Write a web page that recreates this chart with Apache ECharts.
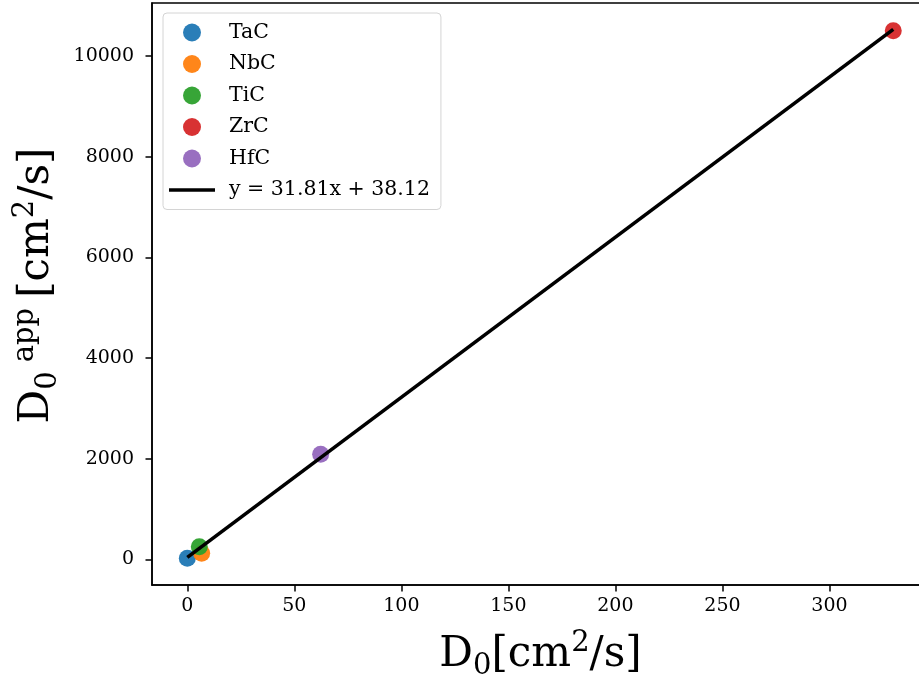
<!DOCTYPE html>
<html>
<head>
<meta charset="utf-8">
<script src="https://cdn.jsdelivr.net/npm/echarts@6/dist/echarts.min.js"></script>
<style>
  html, body { margin: 0; padding: 0; background: #fff; }
  #chart { width: 919px; height: 681px; }
</style>
</head>
<body>
<div id="chart"></div>
<script>
// Carbides: pre-exponential factor D0 vs apparent D0
const materials = ['TaC', 'NbC', 'TiC', 'ZrC', 'HfC'];
const d0Values = [0.0, 6.7, 5.6, 329.8, 62.3];
const d0AppValues = [20, 119, 250, 10503, 2086];
const materialColors = ['#1f77b4', '#ff7f0e', '#2ca02c', '#d62728', '#9467bd'];

// Linear fit stated in the legend
const fitSlope = 31.81;
const fitIntercept = 38.12;
const fitLabel = 'y = 31.81x + 38.12';

// Axis ticks
const xTicks = [0, 50, 100, 150, 200, 250, 300];
const yTicks = [0, 2000, 4000, 6000, 8000, 10000];

const serif = 'DejaVu Serif';

const xMin = Math.min(...d0Values);
const xMax = Math.max(...d0Values);
const fitLine = [
  [xMin, fitSlope * xMin + fitIntercept],
  [xMax, fitSlope * xMax + fitIntercept]
];

// Rich-text styles for axis titles with sub/superscripts
function richLabel(subPad, supPad) {
  return {
    m:   { fontFamily: serif, fontSize: 42, lineHeight: 52, verticalAlign: 'middle', color: '#000' },
    sub: { fontFamily: serif, fontSize: 29, lineHeight: 29, verticalAlign: 'bottom', color: '#000',
           padding: [0, subPad, 0, 0] },
    sup: { fontFamily: serif, fontSize: 29, lineHeight: 38, verticalAlign: 'top', color: '#000' },
    supw: { fontFamily: serif, fontSize: 29, lineHeight: 38, verticalAlign: 'top', color: '#000',
           padding: [0, supPad, 0, 4] }
  };
}

const scatterSeries = materials.map((name, i) => ({
  name: name,
  type: 'scatter',
  data: [[d0Values[i], d0AppValues[i]]],
  symbol: 'circle',
  symbolSize: 17,
  itemStyle: { color: materialColors[i], opacity: 0.95 },
  z: 2
}));

const chart = echarts.init(document.getElementById('chart'), null, { renderer: 'canvas' });

chart.setOption({
  animation: false,
  backgroundColor: '#fff',
  grid: {
    left: 152,
    top: 3,
    width: 777,
    height: 582,
    show: true,
    borderColor: '#000',
    borderWidth: 1.5,
    containLabel: false,
    outerBoundsMode: 'none'
  },
  legend: {
    orient: 'vertical',
    left: 163,
    top: 13,
    padding: [9, 11, 9, 6],
    itemWidth: 46,
    itemHeight: 18,
    itemGap: 10.5,
    borderColor: '#d4d4d4',
    borderWidth: 1,
    borderRadius: 4,
    backgroundColor: 'rgba(255,255,255,0.8)',
    textStyle: {
      fontFamily: serif,
      fontSize: 20.5,
      color: '#000',
      padding: [0, 0, 0, 9]
    },
    data: [
      ...materials.map(n => ({ name: n, icon: 'circle' })),
      { name: fitLabel, icon: 'path://M0,0L46,0L46,3.6L0,3.6Z', itemStyle: { color: '#000' } }
    ]
  },
  xAxis: {
    type: 'value',
    min: -16.5,
    max: 346.5,
    name: '{m|D}{sub|0}{m|[cm}{sup|2}{m|/s]}',
    nameLocation: 'middle',
    nameGap: 44,
    nameTextStyle: { rich: richLabel(0, 0) },
    axisLine: { show: true, onZero: false, lineStyle: { color: '#000', width: 1.5 } },
    axisTick: { show: true, inside: false, length: 6.5, customValues: xTicks, lineStyle: { color: '#000', width: 1.5 } },
    axisLabel: {
      customValues: xTicks,
      margin: 12,
      fontFamily: serif,
      fontSize: 19,
      color: '#000',
      formatter: v => String(v)
    },
    splitLine: { show: false }
  },
  yAxis: {
    type: 'value',
    min: -510,
    max: 11053,
    name: '{m|D}{sub|0}{supw|app}{m|[cm}{sup|2}{m|/s]}',
    nameLocation: 'middle',
    nameRotate: 90,
    nameGap: 86,
    nameTextStyle: { rich: richLabel(5, 10), padding: [0, 0, 0, 17] },
    axisLine: { show: true, onZero: false, lineStyle: { color: '#000', width: 1.5 } },
    axisTick: { show: true, inside: false, length: 6.5, customValues: yTicks, lineStyle: { color: '#000', width: 1.5 } },
    axisLabel: {
      customValues: yTicks,
      margin: 18,
      fontFamily: serif,
      fontSize: 19,
      color: '#000',
      formatter: v => String(v)
    },
    splitLine: { show: false }
  },
  series: [
    ...scatterSeries,
    {
      name: fitLabel,
      type: 'line',
      data: fitLine,
      symbol: 'none',
      lineStyle: { color: '#000', width: 3.6 },
      itemStyle: { color: '#000' },
      z: 3
    }
  ]
});
</script>
</body>
</html>
